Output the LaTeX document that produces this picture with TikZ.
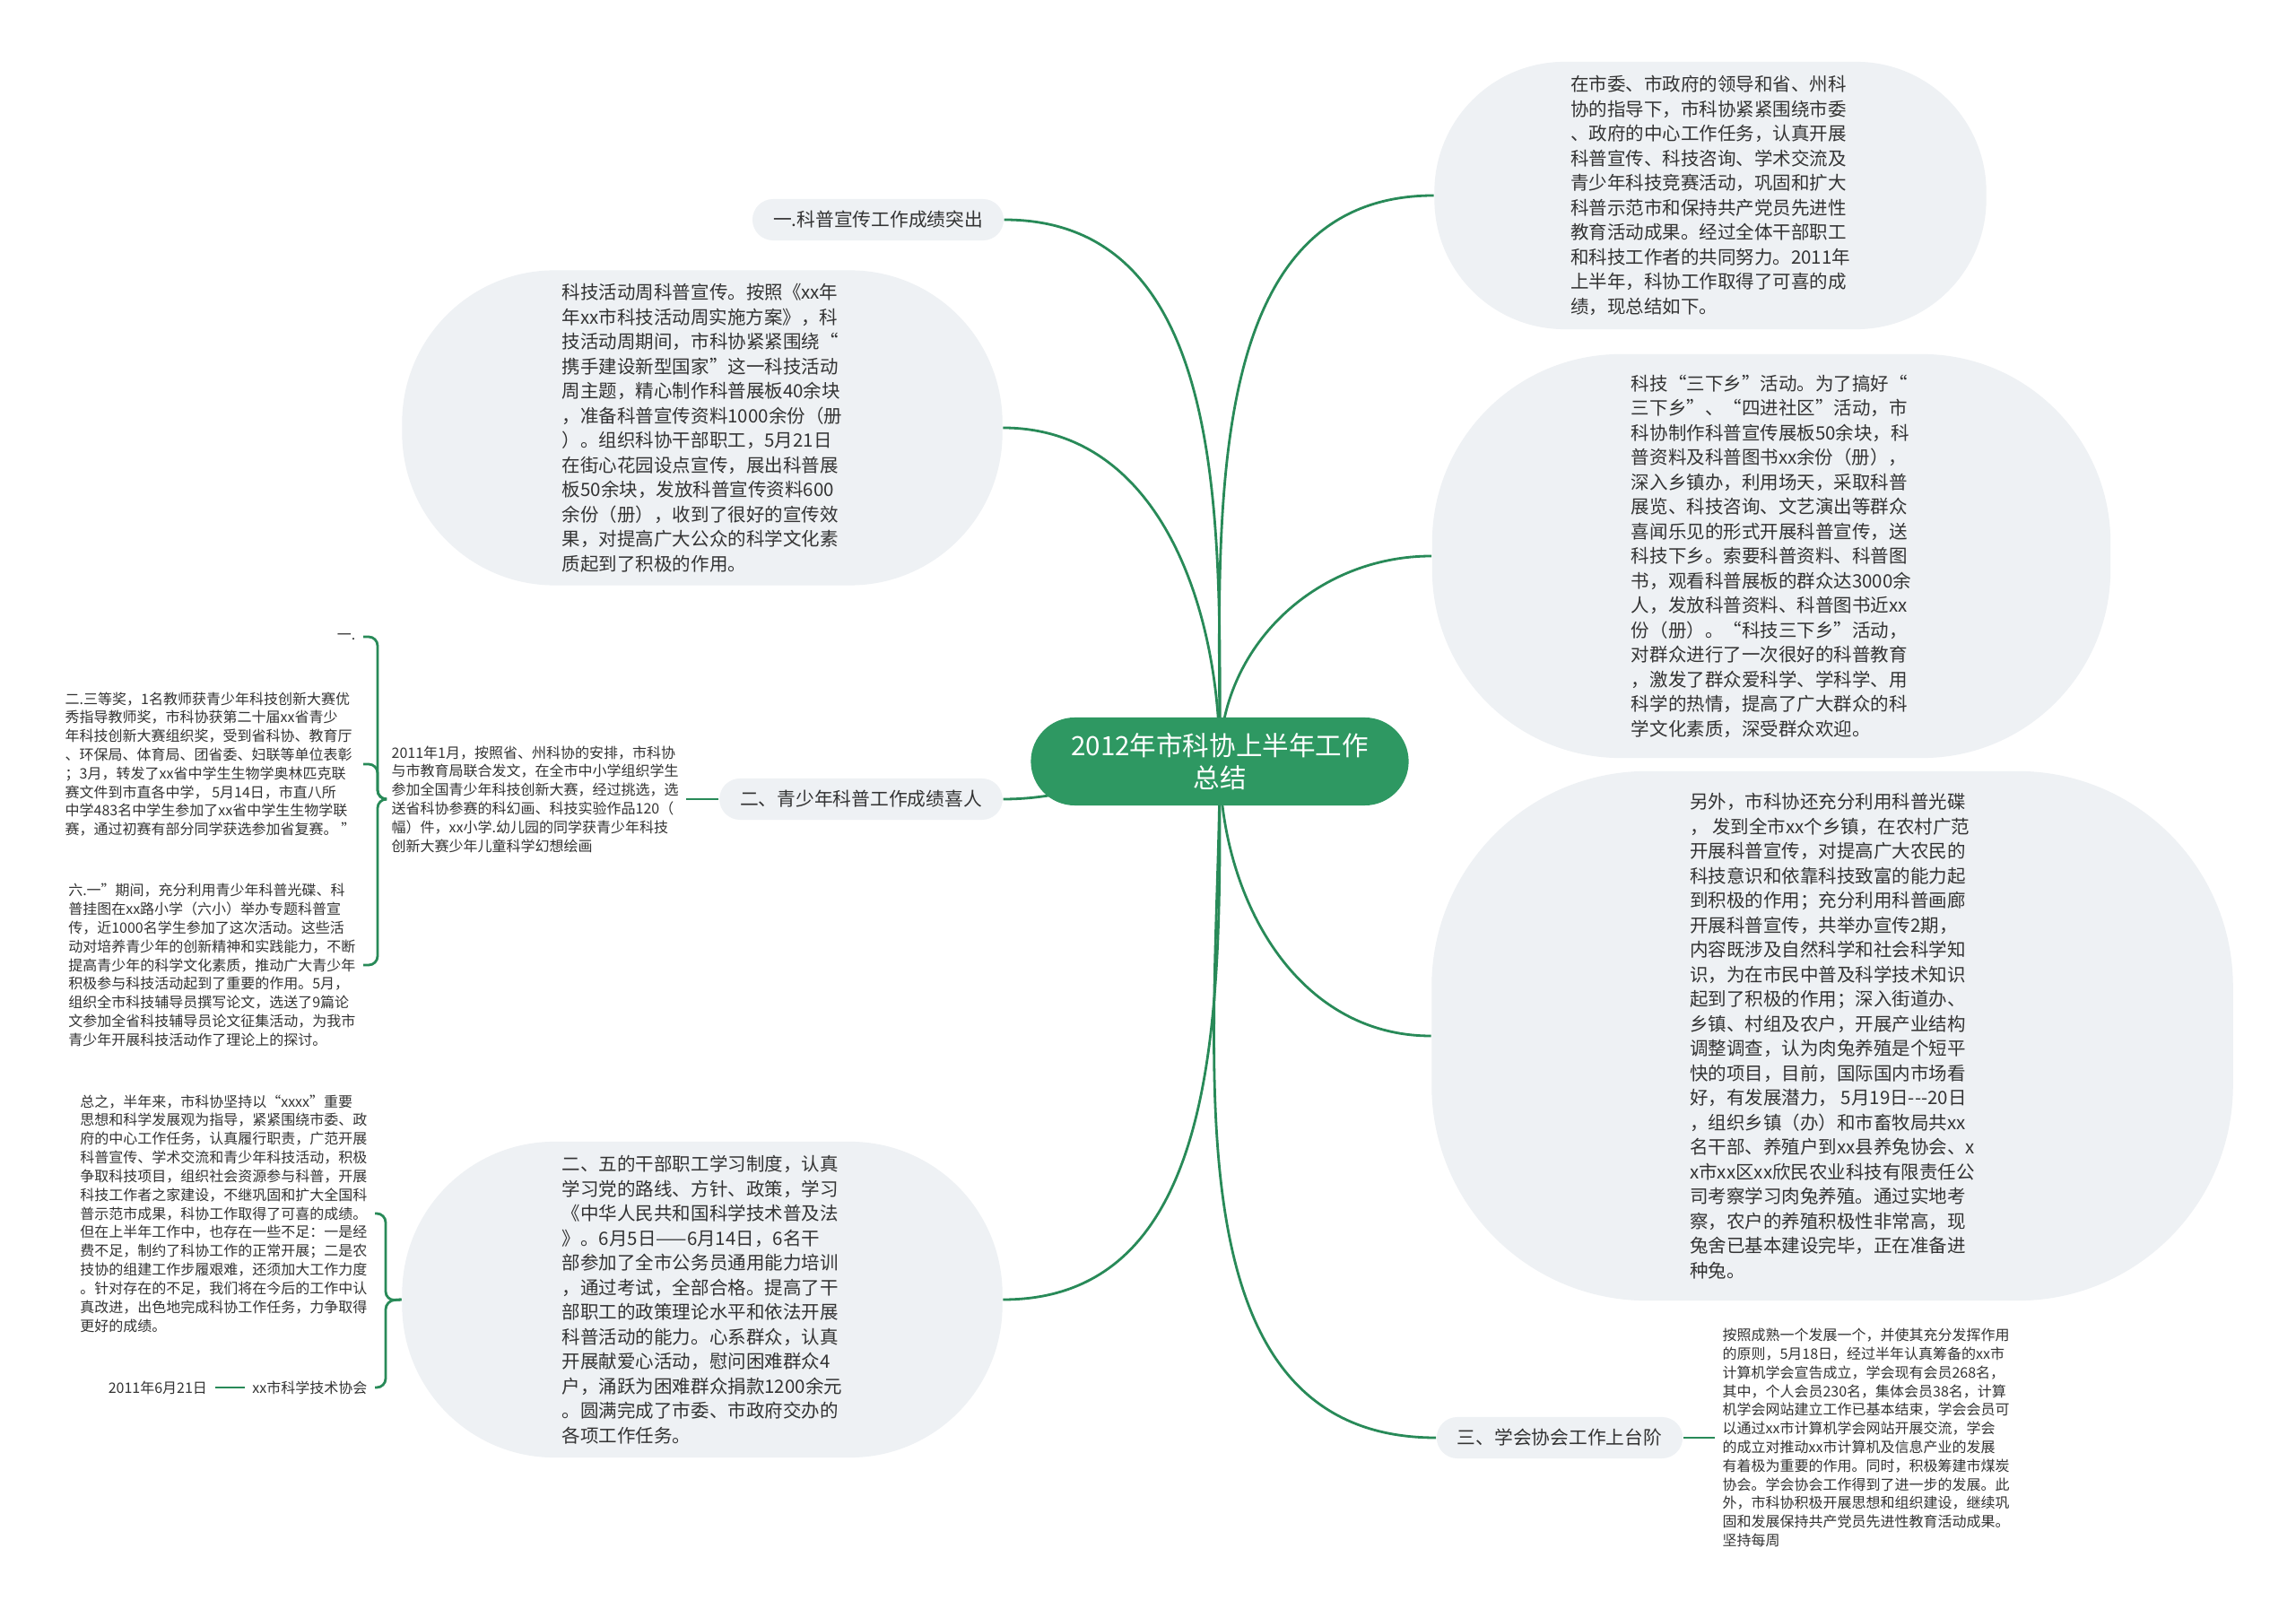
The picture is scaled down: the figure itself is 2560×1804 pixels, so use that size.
\documentclass[tikz,border=0pt]{standalone}
\usepackage{fontspec}
\setmainfont{Noto Sans CJK SC}
\usepackage{tikz}
\usetikzlibrary{positioning, backgrounds}

\definecolor{rootgreen}{RGB}{46,152,98}
\definecolor{linkgreen}{RGB}{40,138,88}
\definecolor{bubblegray}{RGB}{238,241,244}
\definecolor{inkgray}{RGB}{51,51,51}

\begin{document}
\begin{tikzpicture}[x=0.01cm, y=-0.01cm,
    link/.style={draw=linkgreen, line width=0.028cm},
    rootnode/.style={fill=rootgreen, text=white, rounded corners=0.49cm, minimum width=4.21cm,
        minimum height=0.98cm, align=center, font=\fontsize{8.4pt}{10.2pt}\selectfont},
    topic/.style={fill=bubblegray, text=inkgray, rounded corners=0.23cm, minimum height=0.46cm,
        inner xsep=0.23cm, font=\fontsize{5.9pt}{7pt}\selectfont},
    bubble/.style={fill=bubblegray, text=inkgray, rounded corners=#1, inner sep=0pt, align=left,
        font=\fontsize{5.83pt}{7.82pt}\selectfont},
    note/.style={text=inkgray, inner sep=0.08cm, align=left, font=\fontsize{4.55pt}{5.92pt}\selectfont}]

    \useasboundingbox (0,0) rectangle (2560,1804);

    % 中心主题
    \node[rootnode] (root) at (1360,849) {2012年市科协上半年工作\\总结};

    % 右侧分支
    \node[bubble=1.45cm, minimum width=6.15cm, minimum height=2.98cm] (rb1) at (1907,218) {在市委、市政府的领导和省、州科\\
协的指导下，市科协紧紧围绕市委\\
、政府的中心工作任务，认真开展\\
科普宣传、科技咨询、学术交流及\\
青少年科技竞赛活动，巩固和扩大\\
科普示范市和保持共产党员先进性\\
教育活动成果。经过全体干部职工\\
和科技工作者的共同努力。2011年\\
上半年，科协工作取得了可喜的成\\
绩，现总结如下。};

    \node[bubble=2.1cm, minimum width=7.56cm, minimum height=4.5cm] (rb2) at (1975,620) {科技“三下乡”活动。为了搞好“\\
三下乡”、“四进社区”活动，市\\
科协制作科普宣传展板50余块，科\\
普资料及科普图书xx余份（册），\\
深入乡镇办，利用场天，采取科普\\
展览、科技咨询、文艺演出等群众\\
喜闻乐见的形式开展科普宣传，送\\
科技下乡。索要科普资料、科普图\\
书，观看科普展板的群众达3000余\\
人，发放科普资料、科普图书近xx\\
份（册）。“科技三下乡”活动，\\
对群众进行了一次很好的科普教育\\
，激发了群众爱科学、学科学、用\\
科学的热情，提高了广大群众的科\\
学文化素质，深受群众欢迎。};

    \node[bubble=2.4cm, minimum width=8.93cm, minimum height=5.9cm] (rb3) at (2043,1155) {另外，市科协还充分利用科普光碟\\
， 发到全市xx个乡镇，在农村广范\\
开展科普宣传，对提高广大农民的\\
科技意识和依靠科技致富的能力起\\
到积极的作用；充分利用科普画廊\\
开展科普宣传，共举办宣传2期，\\
内容既涉及自然科学和社会科学知\\
识，为在市民中普及科学技术知识\\
起到了积极的作用；深入街道办、\\
乡镇、村组及农户，开展产业结构\\
调整调查，认为肉兔养殖是个短平\\
快的项目，目前，国际国内市场看\\
好，有发展潜力， 5月19日-{}-{}-20日\\
，组织乡镇（办）和市畜牧局共xx\\
名干部、养殖户到xx县养兔协会、x\\
x市xx区xx欣民农业科技有限责任公\\
司考察学习肉兔养殖。通过实地考\\
察，农户的养殖积极性非常高，现\\
兔舍已基本建设完毕，正在准备进\\
种兔。};

    \node[topic] (b3) at (1739,1603) {三、学会协会工作上台阶};
    \node[note] (t3) [right=0.35cm of b3] {按照成熟一个发展一个，并使其充分发挥作用\\
的原则，5月18日，经过半年认真筹备的xx市\\
计算机学会宣告成立，学会现有会员268名，\\
其中，个人会员230名，集体会员38名，计算\\
机学会网站建立工作已基本结束，学会会员可\\
以通过xx市计算机学会网站开展交流，学会\\
的成立对推动xx市计算机及信息产业的发展\\
有着极为重要的作用。同时，积极筹建市煤炭\\
协会。学会协会工作得到了进一步的发展。此\\
外，市科协积极开展思想和组织建设，继续巩\\
固和发展保持共产党员先进性教育活动成果。\\
坚持每周};

    % 左侧分支
    \node[topic] (b1) at (979,245) {一.科普宣传工作成绩突出};

    \node[bubble=1.7cm, minimum width=6.69cm, minimum height=3.51cm] (lb1) at (783,477) {科技活动周科普宣传。按照《xx年\\
年xx市科技活动周实施方案》，科\\
技活动周期间，市科协紧紧围绕“\\
携手建设新型国家”这一科技活动\\
周主题，精心制作科普展板40余块\\
，准备科普宣传资料1000余份（册\\
）。组织科协干部职工，5月21日\\
在街心花园设点宣传，展出科普展\\
板50余块，发放科普宣传资料600\\
余份（册），收到了很好的宣传效\\
果，对提高广大公众的科学文化素\\
质起到了积极的作用。};

    \node[topic] (b2) at (960,891) {二、青少年科普工作成绩喜人};
    \node[note] (t2) [left=0.36cm of b2] {2011年1月，按照省、州科协的安排，市科协\\
与市教育局联合发文，在全市中小学组织学生\\
参加全国青少年科技创新大赛，经过挑选，选\\
送省科协参赛的科幻画、科技实验作品120（\\
幅）件，xx小学.幼儿园的同学获青少年科技\\
创新大赛少年儿童科学幻想绘画};

    \node[note, anchor=east] (c1) at (405,710) {一.};
    \node[note, anchor=east] (c2) at (405,852) {二.三等奖，1名教师获青少年科技创新大赛优\\
秀指导教师奖，市科协获第二十届xx省青少\\
年科技创新大赛组织奖，受到省科协、教育厅\\
、环保局、体育局、团省委、妇联等单位表彰\\
；3月，转发了xx省中学生生物学奥林匹克联\\
赛文件到市直各中学， 5月14日，市直八所\\
中学483名中学生参加了xx省中学生生物学联\\
赛，通过初赛有部分同学获选参加省复赛。 ”};
    \node[note, anchor=east] (c3) at (405,1076) {六.一”期间，充分利用青少年科普光碟、科\\
普挂图在xx路小学（六小）举办专题科普宣\\
传，近1000名学生参加了这次活动。这些活\\
动对培养青少年的创新精神和实践能力，不断\\
提高青少年的科学文化素质，推动广大青少年\\
积极参与科技活动起到了重要的作用。5月，\\
组织全市科技辅导员撰写论文，选送了9篇论\\
文参加全省科技辅导员论文征集活动，为我市\\
青少年开展科技活动作了理论上的探讨。};

    \node[bubble=1.7cm, minimum width=6.69cm, minimum height=3.52cm] (lb2) at (783,1449) {二、五的干部职工学习制度，认真\\
学习党的路线、方针、政策，学习\\
《中华人民共和国科学技术普及法\\
》。6月5日——6月14日，6名干\\
部参加了全市公务员通用能力培训\\
，通过考试，全部合格。提高了干\\
部职工的政策理论水平和依法开展\\
科普活动的能力。心系群众，认真\\
开展献爱心活动，慰问困难群众4\\
户，涌跃为困难群众捐款1200余元\\
。圆满完成了市委、市政府交办的\\
各项工作任务。};

    \node[note, anchor=east] (d1) at (418,1353) {总之，半年来，市科协坚持以“xxxx”重要\\
思想和科学发展观为指导，紧紧围绕市委、政\\
府的中心工作任务，认真履行职责，广范开展\\
科普宣传、学术交流和青少年科技活动，积极\\
争取科技项目，组织社会资源参与科普，开展\\
科技工作者之家建设，不继巩固和扩大全国科\\
普示范市成果，科协工作取得了可喜的成绩。\\
但在上半年工作中，也存在一些不足：一是经\\
费不足，制约了科协工作的正常开展；二是农\\
技协的组建工作步履艰难，还须加大工作力度\\
。针对存在的不足，我们将在今后的工作中认\\
真改进，出色地完成科协工作任务，力争取得\\
更好的成绩。};
    \node[note, anchor=east] (d2) at (418,1547) {xx市科学技术协会};
    \node[note] (d3) [left=0.33cm of d2] {2011年6月21日};

    % 连线（放在背景层）
    \begin{scope}[on background layer]
        \fill[white] (0,0) rectangle (2560,1804);
        \draw[link] (root.center) to[out=90, in=180] (rb1.west);
        \draw[link] (root.center) to[out=90, in=180] (rb2.west);
        \draw[link] (root.center) to[out=-90, in=180] (rb3.west);
        \draw[link] (root.center) to[out=-90, in=180] (b3.west);
        \draw[link] (root.center) to[out=90, in=0] (b1.east);
        \draw[link] (root.center) to[out=90, in=0] (lb1.east);
        \draw[link] (root.center) to[out=180, in=0] (b2.east);
        \draw[link] (root.center) to[out=-90, in=0] (lb2.east);
    \end{scope}
    \draw[link] (b3) -- (t3);
    \draw[link] (b2) -- (t2);
    \draw[link] (d2) -- (d3);

    % 括号
    \coordinate (k2) at (421,891);
    \draw[link, rounded corners=0.1cm] (t2.west) -- (k2) |- (c1.east);
    \draw[link, rounded corners=0.1cm] (t2.west) -- (k2) |- (c2.east);
    \draw[link, rounded corners=0.1cm] (t2.west) -- (k2) |- (c3.east);
    \coordinate (k4) at (430,1450);
    \draw[link, rounded corners=0.1cm] (lb2.west) -- (k4) |- (d1.east);
    \draw[link, rounded corners=0.1cm] (lb2.west) -- (k4) |- (d2.east);
\end{tikzpicture}
\end{document}
